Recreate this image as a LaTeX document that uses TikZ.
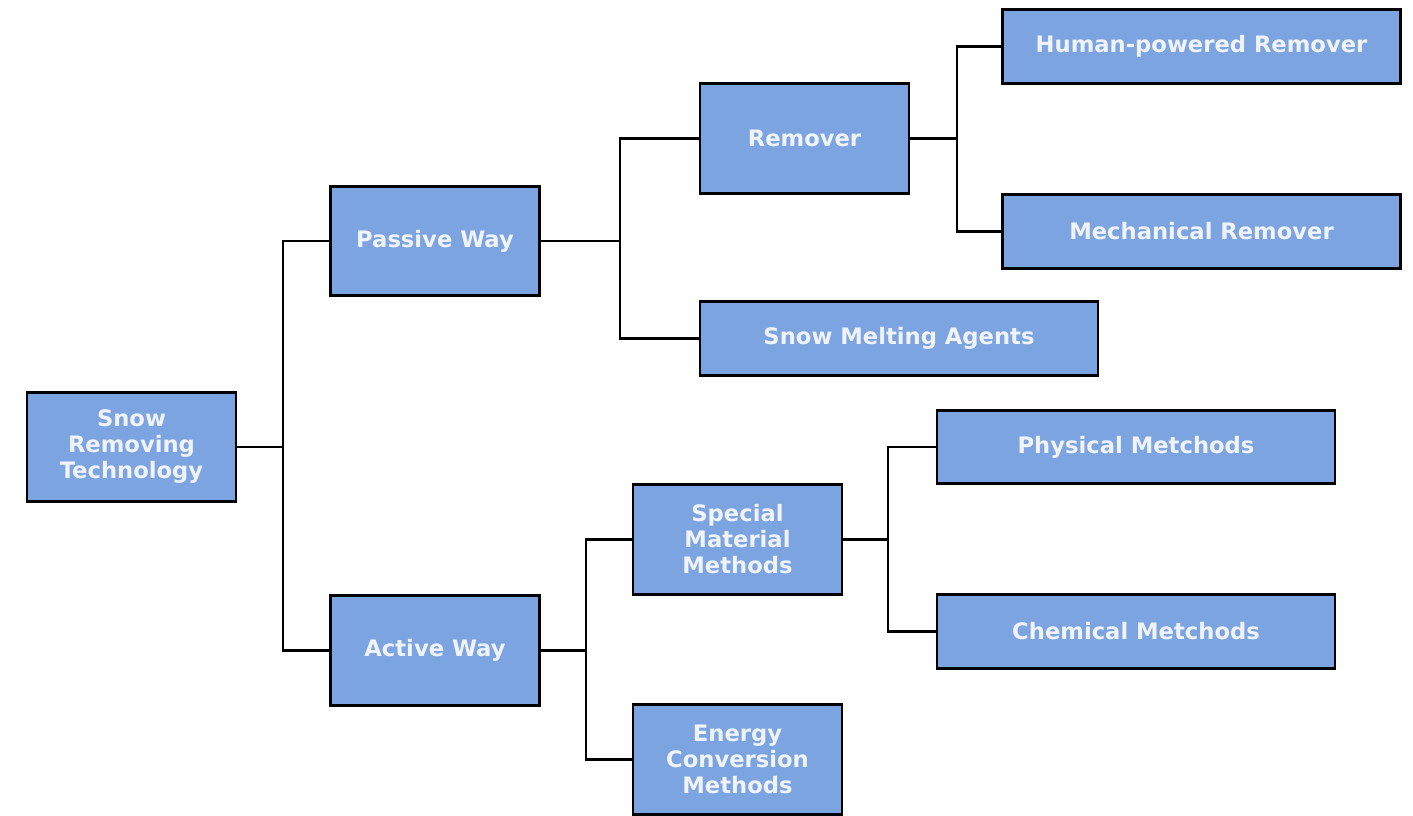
\documentclass[tikz,border=0pt]{standalone}
\usepackage{fontspec}
\setmainfont{DejaVu Sans}
\definecolor{boxfill}{RGB}{124,164,224}
\definecolor{boxtext}{RGB}{240,244,250}
\begin{document}
\begin{tikzpicture}[x=0.75pt,y=-0.75pt,
  box/.style={draw=black, line width=2.2pt, fill=boxfill, text=boxtext,
    font=\fontsize{17}{19.5}\selectfont\bfseries, align=center, inner sep=0pt},
  tall/.style={minimum width=156.75pt, minimum height=82pt},
  wide/.style={minimum width=298.5pt, minimum height=55pt},
  conn/.style={line width=2.2pt, black}]
\useasboundingbox (0,0) rectangle (1413,816);
\node[box,tall] (root) at (131.5,447) {Snow\\Removing\\Technology};
\node[box,tall] (passive) at (435,241) {Passive Way};
\node[box,tall] (active) at (435,650.5) {Active Way};
\node[box,tall] (remover) at (804.5,138.5) {Remover};
\node[box,wide] (sma) at (899,338.5) {Snow Melting Agents};
\node[box,wide] (human) at (1201.5,46.5) {Human-powered Remover};
\node[box,wide] (mech) at (1201.5,231.5) {Mechanical Remover};
\node[box,tall] (smm) at (737.5,539.5) {Special\\Material\\Methods};
\node[box,tall] (ecm) at (737.5,759.5) {Energy\\Conversion\\Methods};
\node[box,wide] (phys) at (1136,447) {Physical Metchods};
\node[box,wide] (chem) at (1136,631.5) {Chemical Metchods};
\coordinate (b1) at (283,447);
\coordinate (b2) at (620,241);
\coordinate (b3) at (957,138.5);
\coordinate (b4) at (586,650.5);
\coordinate (b5) at (888,539.5);
\draw[conn] (root.east) -- (b1) |- (passive.west);
\draw[conn] (b1) |- (active.west);
\draw[conn] (passive.east) -- (b2) |- (remover.west);
\draw[conn] (b2) |- (sma.west);
\draw[conn] (remover.east) -- (b3) |- (human.west);
\draw[conn] (b3) |- (mech.west);
\draw[conn] (active.east) -- (b4) |- (smm.west);
\draw[conn] (b4) |- (ecm.west);
\draw[conn] (smm.east) -- (b5) |- (phys.west);
\draw[conn] (b5) |- (chem.west);
\end{tikzpicture}
\end{document}
